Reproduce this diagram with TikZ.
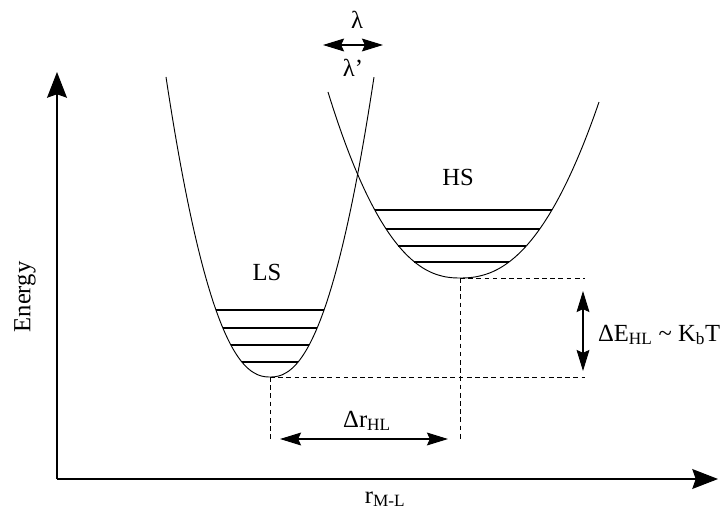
\documentclass[tikz,border=0pt]{standalone}
\usepackage{fontspec}
\setmainfont{Liberation Serif}
\usetikzlibrary{arrows.meta}

\begin{document}
\begin{tikzpicture}[x=0.03cm, y=-0.03cm, font=\fontsize{21}{24}\selectfont,
    curve/.style={line width=0.8pt},
    level/.style={line width=1pt},
    guide/.style={dash pattern=on 4pt off 3pt, line width=0.6pt},
    axis/.style={line width=0.9pt, -{Stealth[length=22pt, width=17pt, inset=3pt]}},
    dimarrow/.style={line width=0.9pt, {Stealth[length=18pt, width=11pt, inset=2.5pt]}-{Stealth[length=18pt, width=11pt, inset=2.5pt]}}]
    \useasboundingbox (0,0) rectangle (725,513);
    % AXES
    \coordinate (origin) at (57,479);
    \coordinate (ytip) at (57,72);
    \coordinate (xtip) at (718,479);
    \draw[axis] (origin) -- (ytip);
    \draw[axis] (origin) -- (xtip);
    \node[rotate=90] (energy) at (25,297) {Energy};
    \node[anchor=base] (rml) at (385,503) {r\textsubscript{M-L}};
    % LS
    \coordinate (lsmin) at (270,377);
    \draw[curve] plot[domain=104:0.01, samples=50] ({270-\x}, {377-300*(\x/104)^2.29})
      -- plot[domain=0.01:104, samples=50] ({270+\x}, {377-300*(\x/104)^2.29});
    \foreach \y in {310,328,345,362} {
      \pgfmathsetmacro\dx{104*((377-\y)/300)^(1/2.29)}
      \draw[level] ({270-\dx},\y) -- ({270+\dx},\y);
    }
    \node (ls) at (267,272) {LS};
    % HS
    \coordinate (hsmin) at (460,278);
    \draw[curve] plot[domain=132:0.01, samples=50] ({460-\x}, {278-186*(\x/132)^2.3})
      -- plot[domain=0.01:139, samples=50] ({460+\x}, {278-176*(\x/139)^2.3});
    \foreach \y in {210,229,246,262} {
      \pgfmathsetmacro\dl{132*((278-\y)/186)^(1/2.3)}
      \pgfmathsetmacro\dr{139*((278-\y)/176)^(1/2.3)}
      \draw[level] ({460-\dl},\y) -- ({460+\dr},\y);
    }
    \node (hs) at (458,177) {HS};
    % LAMBDA
    \coordinate (lamL) at (323,45);
    \coordinate (lamR) at (383,45);
    \draw[dimarrow] (lamL) -- (lamR);
    \node (lam) at (357,20) {λ};
    \node (lamp) at (353,68) {λ'};
    % GUIDES
    \coordinate (hsend) at (585,278);
    \coordinate (lsend) at (585,377);
    \coordinate (hsfoot) at (460,442);
    \coordinate (lsfoot) at (270,442);
    \draw[guide] (hsmin) -- (hsend);
    \draw[guide] (lsmin) -- (lsend);
    \draw[guide] (hsmin) -- (hsfoot);
    \draw[guide] (lsmin) -- (lsfoot);
    % DELTA E
    \coordinate (dEtop) at (583,291);
    \coordinate (dEbot) at (583,371);
    \draw[dimarrow] (dEtop) -- (dEbot);
    \node[anchor=west] (dE) at (594,335) {ΔE\textsubscript{HL} \textasciitilde{} K\textsubscript{b}T};
    % DELTA R
    \coordinate (drL) at (280,439);
    \coordinate (drR) at (448,439);
    \draw[dimarrow] (drL) -- (drR);
    \node (dr) at (367,421) {Δr\textsubscript{HL}};
\end{tikzpicture}
\end{document}
